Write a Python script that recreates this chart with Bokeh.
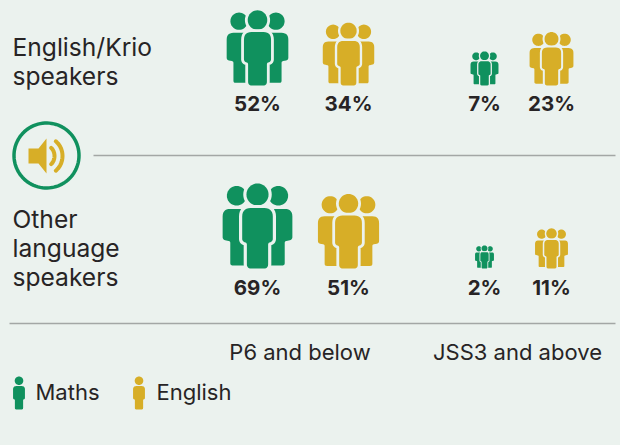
import numpy as np
from bokeh.plotting import figure
from bokeh.models import Range1d
from bokeh.core.properties import value
from bokeh.embed import file_html
from bokeh.resources import INLINE

# ---- data ----
levels = ["P6 and below", "JSS3 and above"]
subjects = ["Maths", "English"]
krio_label = ["English/Krio", "speakers"]
other_label = ["Other", "language", "speakers"]
krio_maths = [52, 7]
krio_english = [34, 23]
other_maths = [69, 2]
other_english = [51, 11]

# ---- style / layout ----
BG = "#ebf2ee"
GREEN = "#10915e"
YELLOW = "#d7ae27"
INK = "#272425"
RULE = "#a3a7a5"
FONT = "Inter"
col_x = {("Maths", 0): 257, ("English", 0): 348, ("Maths", 1): 484, ("English", 1): 551}
row_bottom = [85, 268]
row_label_y = [102.5, 286.5]


def rounded(corners, radii, n=8):
    pts = []
    m = len(corners)
    for i in range(m):
        p0 = np.array(corners[i - 1], float)
        p1 = np.array(corners[i], float)
        p2 = np.array(corners[(i + 1) % m], float)
        r = radii[i]
        a = p1 + (p0 - p1) / np.linalg.norm(p0 - p1) * r
        b = p1 + (p2 - p1) / np.linalg.norm(p2 - p1) * r
        for t in np.linspace(0, 1, n):
            pts.append((1 - t) ** 2 * a + 2 * t * (1 - t) * p1 + t ** 2 * b)
    return np.array(pts)


def disc(cx, cy, r, n=40):
    t = np.linspace(0, 2 * np.pi, n, endpoint=False)
    return np.c_[cx + r * np.cos(t), cy + r * np.sin(t)]


# unit shapes: x relative to icon centre, y from 0 (top) to 1 (bottom), per icon height
CENTRE_BODY = rounded(
    [(-0.18, 0.29), (0.18, 0.29), (0.18, 0.68), (0.125, 0.70), (0.125, 1.0), (-0.125, 1.0), (-0.125, 0.70), (-0.18, 0.68)],
    [0.1, 0.1, 0.03, 0.02, 0.05, 0.05, 0.02, 0.03],
)
CENTRE_HEAD = disc(0, 0.13, 0.13)
SIDE_BODY = rounded(
    [(0.41, 0.30), (0.10, 0.30), (0.10, 0.965), (0.32, 0.965), (0.32, 0.68), (0.41, 0.66)],
    [0.09, 0.01, 0.01, 0.03, 0.02, 0.03],
)
SIDE_HEAD = disc(0.245, 0.145, 0.115)

xs, ys, fills, lines, widths = [], [], [], [], []


def add(shape, cx, bottom, h, colour, outline=False):
    x = cx + shape[:, 0] * h
    y = bottom - h + shape[:, 1] * h
    if outline:
        xs.append(x)
        ys.append(y)
        fills.append(BG)
        lines.append(BG)
        widths.append(h * 0.075)
    xs.append(x)
    ys.append(y)
    fills.append(colour)
    lines.append(colour)
    widths.append(0)


def crowd(cx, bottom, v, colour):
    h = 10.3 + 9.0 * np.sqrt(v)
    mirror = np.array([-1, 1])
    for shape in (SIDE_HEAD, SIDE_BODY):
        add(shape, cx, bottom, h, colour)
        add(shape * mirror, cx, bottom, h, colour)
    add(CENTRE_HEAD, cx, bottom, h, colour, True)
    add(CENTRE_BODY, cx, bottom, h, colour, True)


p = figure(width=620, height=445, x_range=Range1d(0, 620), y_range=Range1d(445, 0),
           output_backend="svg", toolbar_location=None, min_border=0,
           background_fill_color=BG, border_fill_color=BG, outline_line_color=None)
p.axis.visible = False
p.grid.visible = False

tx, ty, tt = [], [], []
for row, (m_vals, e_vals) in enumerate([(krio_maths, krio_english), (other_maths, other_english)]):
    for lv in range(len(levels)):
        for subj, v, colour in (("Maths", m_vals[lv], GREEN), ("English", e_vals[lv], YELLOW)):
            cx = col_x[(subj, lv)]
            crowd(cx, row_bottom[row], v, colour)
            tx.append(cx)
            ty.append(row_label_y[row])
            tt.append(f"{v}%")

# legend persons
for subj, cx, colour in ((subjects[0], 18.5, GREEN), (subjects[1], 138.5, YELLOW)):
    add(CENTRE_HEAD, cx, 409, 33, colour)
    add(CENTRE_BODY, cx, 409, 33, colour)

p.patches(xs=xs, ys=ys, fill_color=fills, line_color=lines, line_width=widths)

p.text(x=tx, y=ty, text=tt, text_align="center", text_baseline="middle",
       text_font=value(FONT), text_font_style="bold", text_font_size="20.5px", text_color=INK)

# row labels
lab_y = [46.5, 75.5] + [218.5, 247.5, 276.5]
p.text(x=[12] * 5, y=lab_y, text=krio_label + other_label, text_align="left", text_baseline="middle",
       text_font=value(FONT), text_font_size="24.6px", text_color=INK)

# column labels
p.text(x=[299.5, 517], y=[351, 351], text=levels, text_align="center", text_baseline="middle",
       text_font=value(FONT), text_font_size="22px", text_color=INK)

# legend labels
p.text(x=[35, 156], y=[391, 391], text=subjects, text_align="left", text_baseline="middle",
       text_font=value(FONT), text_font_size="22px", text_color=INK)

# rules
p.line([93, 615], [155, 155], line_color=RULE, line_width=1.5)
p.line([9, 615], [323, 323], line_color=RULE, line_width=1.5)

# speaker badge
t = np.linspace(0, 2 * np.pi, 90)
p.line(46 + 32.5 * np.cos(t), 155 + 32.5 * np.sin(t), line_color=GREEN, line_width=3.5)
p.patch([28, 38, 46, 46, 38, 28], [148, 148, 138, 173, 163, 163], fill_color=YELLOW, line_color=None)
for r, span in ((8, 0.95), (16, 0.95)):
    a = np.linspace(-span, span, 24)
    p.line(46 + r * np.cos(a), 155.5 + (r + 2) * np.sin(a), line_color=YELLOW, line_width=4, line_cap="round")

html = file_html(p, INLINE)
html = html.replace("</head>", f"<style>html,body{{background:{BG};margin:0;overflow:hidden}}</style></head>", 1)
open("out.html", "w").write(html)
